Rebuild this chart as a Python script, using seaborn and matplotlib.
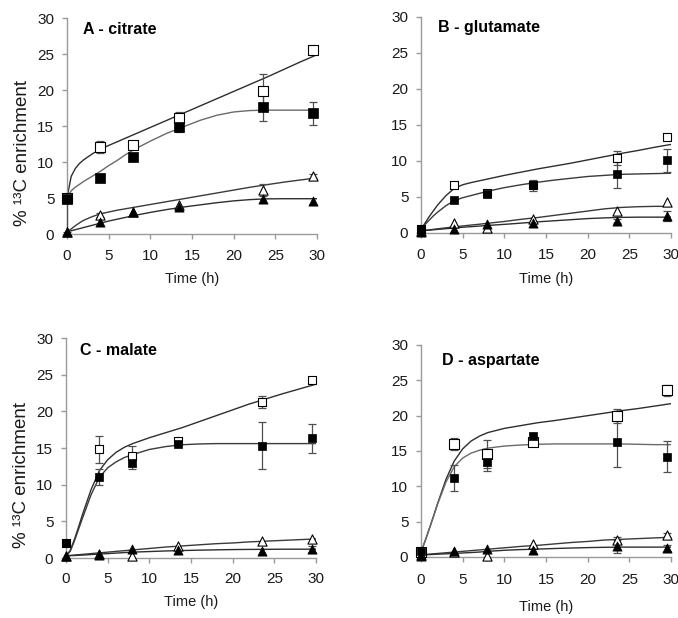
import matplotlib
matplotlib.use("Agg")
import matplotlib.pyplot as plt
import seaborn as sns
import numpy as np

# ---------------- data ----------------
t_obs = [0, 3.9, 7.9, 13.4, 23.5, 29.5]
fit_t = [0, 0.5, 1, 1.5, 2, 3, 4, 5, 6, 7, 8, 10, 12, 14, 16, 18, 20, 22, 24, 26, 28, 30]
x_ticks = [0, 5, 10, 15, 20, 25, 30]
y_ticks = [0, 5, 10, 15, 20, 25, 30]
panel_titles = ["A - citrate", "B - glutamate", "C - malate", "D - aspartate"]
x_label = "Time (h)"
y_label = "% \u00b9\u00b3C enrichment"

# Panel A - citrate
A_open_sq = [5.0, 12.1, 12.4, 16.1, 19.8, 25.5]
A_open_sq_err = [0, 0.8, 0.5, 0.8, 2.4, 0.5]
A_fill_sq = [4.8, 7.8, 10.7, 14.8, 17.6, 16.8]
A_fill_sq_err_lo = [4.5, 0, 0, 0.7, 1.9, 1.6]
A_fill_sq_err_hi = [0, 0, 0, 0.7, 1.9, 1.6]
A_open_tri = [0.3, 2.6, 3.1, 4.0, 6.1, 8.1]
A_open_tri_err = [0, 0.3, 0, 0, 0.8, 0.3]
A_fill_tri = [0.3, 1.7, 3.0, 3.8, 4.9, 4.6]
A_fill_tri_err = [0, 0, 0, 0, 0, 0]
A_fit_open_sq = [5.0, 8.0, 9.1, 9.8, 10.3, 11.1, 11.8, 12.3, 12.8, 13.3, 13.8, 14.8, 15.8, 16.8, 17.8, 18.8, 19.8, 20.8, 21.8, 22.85, 23.9, 24.9]
A_fit_fill_sq = [5.0, 6.0, 6.5, 6.9, 7.3, 8.0, 8.7, 9.5, 10.2, 11.0, 11.7, 12.9, 14.0, 14.9, 15.8, 16.5, 16.95, 17.15, 17.2, 17.2, 17.2, 17.2]
A_fit_open_tri = [0.3, 0.7, 1.15, 1.55, 1.9, 2.4, 2.8, 3.05, 3.3, 3.5, 3.7, 4.1, 4.5, 4.9, 5.3, 5.7, 6.1, 6.5, 6.85, 7.2, 7.5, 7.8]
A_fit_fill_tri = [0.3, 0.45, 0.6, 0.75, 0.9, 1.2, 1.5, 1.8, 2.05, 2.3, 2.55, 3.0, 3.4, 3.75, 4.05, 4.35, 4.6, 4.78, 4.88, 4.9, 4.9, 4.9]

# Panel B - glutamate
B_open_sq = [0.5, 6.7, 5.6, 6.6, 10.4, 13.3]
B_open_sq_err = [0, 0.3, 0.3, 0.7, 1.0, 0.3]
B_fill_sq = [0.5, 4.6, 5.4, 6.7, 8.2, 10.1]
B_fill_sq_err_lo = [0, 0.2, 0.3, 0.5, 2.0, 1.6]
B_fill_sq_err_hi = [0, 0.2, 0.3, 0.5, 2.0, 1.6]
B_open_tri = [0.3, 1.4, 0.7, 1.9, 3.1, 4.3]
B_open_tri_err = [0, 0, 0, 0, 0, 0]
B_fill_tri = [0.2, 0.6, 1.25, 1.35, 1.7, 2.3]
B_fill_tri_err = [0, 0, 0, 0, 0.3, 0.7]
B_fit_open_sq = [0.5, 1.4, 2.3, 3.1, 3.9, 5.2, 6.2, 6.7, 7.0, 7.25, 7.5, 8.0, 8.45, 8.9, 9.3, 9.7, 10.15, 10.6, 11.05, 11.45, 11.9, 12.3]
B_fit_fill_sq = [0.5, 1.2, 1.8, 2.4, 2.9, 3.8, 4.5, 4.9, 5.2, 5.5, 5.8, 6.3, 6.7, 7.05, 7.35, 7.6, 7.85, 8.0, 8.15, 8.2, 8.25, 8.3]
B_fit_open_tri = [0.3, 0.37, 0.44, 0.51, 0.58, 0.72, 0.85, 0.98, 1.1, 1.22, 1.35, 1.6, 1.9, 2.15, 2.45, 2.75, 3.05, 3.35, 3.55, 3.65, 3.7, 3.7]
B_fit_fill_tri = [0.3, 0.35, 0.4, 0.45, 0.5, 0.6, 0.7, 0.8, 0.88, 0.96, 1.05, 1.2, 1.37, 1.55, 1.7, 1.85, 2.0, 2.1, 2.17, 2.2, 2.2, 2.2]

# Panel C - malate
C_open_sq = [2.0, 14.8, 13.9, 16.0, 21.3, 24.3]
C_open_sq_err = [0, 1.9, 1.4, 0.3, 0.8, 0.3]
C_fill_sq = [2.0, 11.1, 13.0, 15.6, 15.3, 16.3]
C_fill_sq_err_lo = [0, 1.1, 0.9, 0.2, 3.2, 2.0]
C_fill_sq_err_hi = [0, 1.1, 0.9, 0.2, 3.2, 2.0]
C_open_tri = [0.3, 0.6, 0.3, 1.7, 2.3, 2.6]
C_open_tri_err = [0, 0, 0, 0, 0, 0]
C_fill_tri = [0.3, 0.45, 1.2, 1.05, 0.9, 1.2]
C_fill_tri_err = [0, 0, 0, 0, 0, 0.5]
C_fit_open_sq = [0.3, 1.0, 2.5, 4.2, 6.0, 9.3, 11.9, 13.4, 14.4, 15.1, 15.6, 16.4, 17.1, 17.8, 18.6, 19.4, 20.2, 21.0, 21.7, 22.4, 23.05, 23.7]
C_fit_fill_sq = [0.3, 0.9, 2.3, 3.9, 5.5, 8.6, 11.0, 12.3, 13.1, 13.7, 14.1, 14.8, 15.2, 15.45, 15.55, 15.6, 15.6, 15.6, 15.6, 15.6, 15.6, 15.6]
C_fit_open_tri = [0.3, 0.35, 0.4, 0.45, 0.5, 0.6, 0.7, 0.8, 0.9, 1.0, 1.1, 1.3, 1.5, 1.65, 1.8, 1.95, 2.05, 2.2, 2.3, 2.4, 2.5, 2.6]
C_fit_fill_tri = [0.3, 0.32, 0.34, 0.37, 0.4, 0.47, 0.55, 0.6, 0.67, 0.74, 0.8, 0.88, 0.96, 1.02, 1.07, 1.11, 1.15, 1.17, 1.18, 1.2, 1.2, 1.2]

# Panel D - aspartate
D_open_sq = [0.7, 16.0, 14.6, 16.3, 20.0, 23.6]
D_open_sq_err = [0, 0.8, 2.0, 0.5, 1.0, 0.8]
D_fill_sq = [0.8, 11.2, 13.5, 17.1, 16.3, 14.2]
D_fill_sq_err_lo = [0, 1.8, 1.3, 0.5, 3.6, 2.2]
D_fill_sq_err_hi = [0, 1.8, 1.3, 0.5, 3.6, 2.2]
D_open_tri = [0.3, 0.7, 0.2, 1.9, 2.4, 3.1]
D_open_tri_err = [0, 0, 0, 0, 0.4, 0.3]
D_fill_tri = [0.2, 0.8, 1.2, 1.0, 1.5, 1.3]
D_fill_tri_err = [0, 0, 0, 0, 0.9, 0.4]
D_fit_open_sq = [0.7, 2.3, 4.0, 5.8, 7.6, 11.0, 13.6, 15.3, 16.4, 17.1, 17.6, 18.2, 18.6, 19.0, 19.3, 19.65, 20.0, 20.35, 20.7, 21.0, 21.35, 21.7]
D_fit_fill_sq = [0.7, 2.3, 4.0, 5.7, 7.5, 10.6, 12.8, 14.0, 14.7, 15.1, 15.4, 15.7, 15.85, 15.95, 16.0, 16.0, 16.0, 16.0, 16.0, 15.95, 15.9, 15.9]
D_fit_open_tri = [0.3, 0.35, 0.4, 0.45, 0.5, 0.6, 0.7, 0.8, 0.9, 1.0, 1.1, 1.3, 1.5, 1.65, 1.85, 2.05, 2.2, 2.4, 2.5, 2.6, 2.7, 2.8]
D_fit_fill_tri = [0.3, 0.32, 0.34, 0.37, 0.4, 0.45, 0.5, 0.57, 0.63, 0.7, 0.8, 0.95, 1.05, 1.12, 1.2, 1.27, 1.33, 1.37, 1.4, 1.4, 1.4, 1.4]

# ---------------- style ----------------
sns.set_style("ticks")
plt.rcParams["font.family"] = ["Liberation Sans", "DejaVu Sans"]

W, H = 678, 618
fig = plt.figure(figsize=(W / 100, H / 100), dpi=100)

# pixel boxes (x0, y0, x1, y1) of each plotting area
boxes = [(67, 18, 317, 234), (421, 17, 671, 233), (66, 338, 316, 558), (421, 345, 671, 557)]
title_pos = [(0.064, 0.926), (0.068, 0.930), (0.056, 0.923), (0.084, 0.904)]
xlabel_y = [-0.175, -0.182, -0.170, -0.205]
xtick_pad = [7, 7.5, 6.5, 8]
fill_sq_size = [50, 26, 28, 28]
open_sq_size = [50, 40, 40, 42]

panels = [
    (A_open_sq, A_open_sq_err, A_fill_sq, A_fill_sq_err_lo, A_fill_sq_err_hi,
     A_open_tri, A_open_tri_err, A_fill_tri, A_fill_tri_err,
     A_fit_open_sq, A_fit_fill_sq, A_fit_open_tri, A_fit_fill_tri),
    (B_open_sq, B_open_sq_err, B_fill_sq, B_fill_sq_err_lo, B_fill_sq_err_hi,
     B_open_tri, B_open_tri_err, B_fill_tri, B_fill_tri_err,
     B_fit_open_sq, B_fit_fill_sq, B_fit_open_tri, B_fit_fill_tri),
    (C_open_sq, C_open_sq_err, C_fill_sq, C_fill_sq_err_lo, C_fill_sq_err_hi,
     C_open_tri, C_open_tri_err, C_fill_tri, C_fill_tri_err,
     C_fit_open_sq, C_fit_fill_sq, C_fit_open_tri, C_fit_fill_tri),
    (D_open_sq, D_open_sq_err, D_fill_sq, D_fill_sq_err_lo, D_fill_sq_err_hi,
     D_open_tri, D_open_tri_err, D_fill_tri, D_fill_tri_err,
     D_fit_open_sq, D_fit_fill_sq, D_fit_open_tri, D_fit_fill_tri),
]

axis_gray = "#9a9a9a"
err_color = "#505050"


def draw_err(ax, x, y, lo, hi):
    x = np.asarray(x, float); y = np.asarray(y, float)
    lo = np.asarray(lo, float); hi = np.asarray(hi, float)
    m = (lo > 0) | (hi > 0)
    if m.any():
        ax.errorbar(x[m], y[m], yerr=[lo[m], hi[m]], fmt="none", ecolor=err_color,
                    elinewidth=0.9, capsize=3, capthick=0.9, zorder=3, clip_on=False)


for i, (box, data) in enumerate(zip(boxes, panels)):
    (osq, osq_e, fsq, fsq_lo, fsq_hi, otri, otri_e, ftri, ftri_e,
     f_osq, f_fsq, f_otri, f_ftri) = data
    x0, y0, x1, y1 = box
    ax = fig.add_axes([x0 / W, 1 - y1 / H, (x1 - x0) / W, (y1 - y0) / H])

    # fitted curves
    sns.lineplot(x=fit_t, y=f_osq, ax=ax, color="#2e2e2e", linewidth=1.0,
                 estimator=None, sort=False, zorder=2)
    sns.lineplot(x=fit_t, y=f_fsq, ax=ax, color="#6a6a6a" if i in (0, 3) else "#3a3a3a",
                 linewidth=1.0, estimator=None, sort=False, zorder=2)
    sns.lineplot(x=fit_t, y=f_otri, ax=ax, color="#3a3a3a", linewidth=1.0,
                 estimator=None, sort=False, zorder=2)
    sns.lineplot(x=fit_t, y=f_ftri, ax=ax, color="#2e2e2e", linewidth=1.0,
                 estimator=None, sort=False, zorder=2)

    # error bars
    draw_err(ax, t_obs, osq, osq_e, osq_e)
    draw_err(ax, t_obs, fsq, fsq_lo, fsq_hi)
    draw_err(ax, t_obs, otri, otri_e, otri_e)
    draw_err(ax, t_obs, ftri, ftri_e, ftri_e)

    # markers
    sns.scatterplot(x=t_obs, y=osq, ax=ax, marker="s", s=open_sq_size[i], color="white",
                    edgecolor="black", linewidth=0.8, zorder=4, clip_on=False)
    sns.scatterplot(x=t_obs, y=otri, ax=ax, marker="^", s=44, color="white",
                    edgecolor="black", linewidth=0.8, zorder=4, clip_on=False)
    sns.scatterplot(x=t_obs, y=fsq, ax=ax, marker="s", s=fill_sq_size[i], color="black",
                    edgecolor="black", linewidth=0.5, zorder=5, clip_on=False)
    sns.scatterplot(x=t_obs, y=ftri, ax=ax, marker="^", s=44, color="black",
                    edgecolor="black", linewidth=0.5, zorder=5, clip_on=False)

    ax.set_xlim(0, 30)
    ax.set_ylim(0, 30)
    ax.set_xticks(x_ticks)
    ax.set_yticks(y_ticks)
    ax.set_xticklabels([str(v) for v in x_ticks])
    ax.set_yticklabels([str(v) for v in y_ticks])
    for side in ("top", "right"):
        ax.spines[side].set_visible(False)
    for side in ("left", "bottom"):
        ax.spines[side].set_color(axis_gray)
        ax.spines[side].set_linewidth(1.0)
    ax.tick_params(axis="both", direction="out", length=3.6, width=1.0, color=axis_gray,
                   labelsize=11, labelcolor="#1a1a1a")
    ax.tick_params(axis="y", pad=5.5)
    ax.tick_params(axis="x", pad=xtick_pad[i])
    ax.set_facecolor("white")

    ax.set_xlabel(x_label, fontsize=10.5, color="#1a1a1a")
    ax.xaxis.set_label_coords(0.5, xlabel_y[i])
    if i in (0, 2):
        ax.set_ylabel(y_label, fontsize=13.5, color="#1a1a1a")
        ax.yaxis.set_label_coords(-0.145, 0.375)
    else:
        ax.set_ylabel("")

    tx, ty = title_pos[i]
    ax.text(tx, ty, panel_titles[i], transform=ax.transAxes, fontsize=11.5,
            fontweight="bold", ha="left", va="baseline", color="black")

fig.savefig("out.png", dpi=100, facecolor="white")
